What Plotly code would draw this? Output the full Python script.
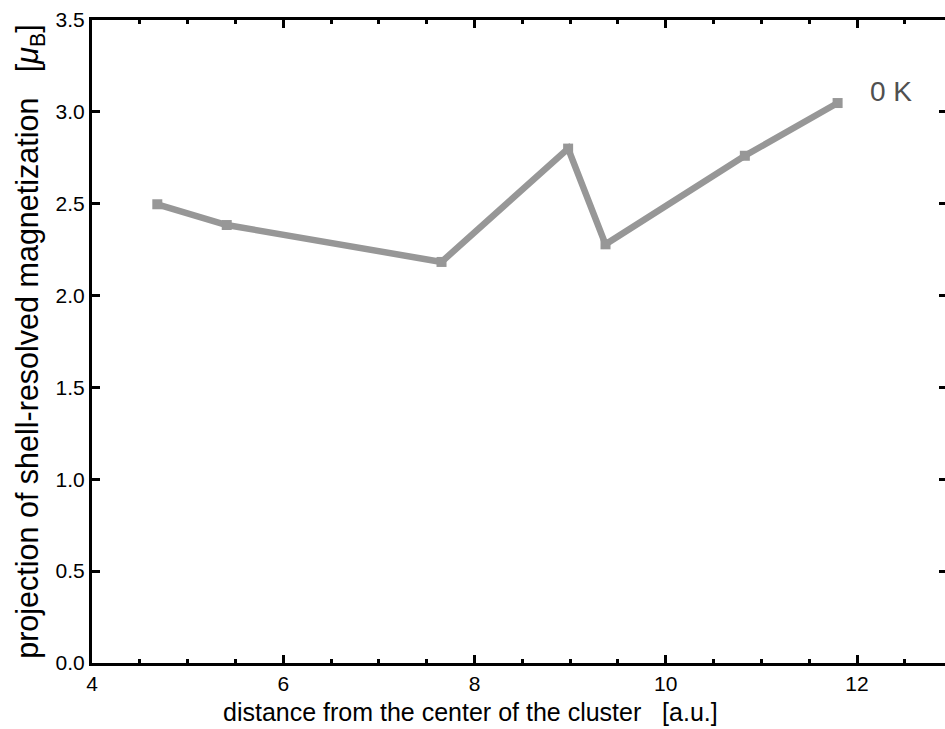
import plotly.graph_objects as go

distance = [4.683, 5.409, 7.655, 8.979, 9.370, 10.827, 11.797]
magnetization = [2.497, 2.384, 2.183, 2.800, 2.279, 2.761, 3.048]
series_label = "0 K"
x_title = "distance from the center of the cluster   [a.u.]"
y_title = "projection of shell-resolved magnetization   [<i>μ</i><sub>B</sub>]"
x_ticks = [4, 6, 8, 10, 12]
y_ticks = [0.0, 0.5, 1.0, 1.5, 2.0, 2.5, 3.0, 3.5]

FONT = "Liberation Sans, Arial, sans-serif"
GRAY = "#979797"

fig = go.Figure()
fig.add_trace(go.Scatter(
    x=distance, y=magnetization, mode="lines+markers",
    line=dict(color=GRAY, width=6.5),
    marker=dict(symbol="square", size=10, color=GRAY),
    showlegend=False, hoverinfo="x+y",
))
# invisible trace for right-side ticks
fig.add_trace(go.Scatter(x=[distance[0]], y=[magnetization[0]], yaxis="y2",
                         mode="markers", marker=dict(opacity=0), showlegend=False,
                         hoverinfo="skip"))

fig.add_annotation(x=12.36, y=3.11, text=series_label, showarrow=False,
                   font=dict(family=FONT, size=28, color="#505050"))
# x-axis title (placed off-centre as in the reference)
fig.add_annotation(x=0.4443, y=-0.076, xref="paper", yref="paper",
                   xanchor="center", yanchor="middle", text=x_title,
                   showarrow=False, font=dict(family=FONT, size=25, color="black"))

fig.update_layout(
    width=945, height=729, autosize=False,
    margin=dict(l=92, r=0, t=20, b=66),
    paper_bgcolor="white", plot_bgcolor="white",
    font=dict(family=FONT, color="black"),
    xaxis=dict(
        range=[4, 12.92], tickvals=x_ticks, ticktext=[str(v) for v in x_ticks],
        ticks="inside", ticklen=8, tickwidth=3, tickcolor="black",
        minor=dict(dtick=0.5, tick0=4, ticks="inside", ticklen=4, tickwidth=3, tickcolor="black"),
        showline=True, linewidth=3, linecolor="black", mirror="ticks",
        showgrid=False, zeroline=False, automargin=False,
        tickfont=dict(size=21, family=FONT),
    ),
    yaxis=dict(
        range=[0, 3.5], tickvals=y_ticks, ticktext=[f"{v:.1f}" for v in y_ticks],
        ticks="inside", ticklen=8, tickwidth=3, tickcolor="black",
        showline=True, linewidth=3, linecolor="black", mirror=False,
        showgrid=False, zeroline=False, automargin=False,
        tickfont=dict(size=21, family=FONT),
        title=dict(text=y_title, font=dict(size=30.5, family=FONT), standoff=8),
    ),
    yaxis2=dict(
        overlaying="y", side="right", range=[0, 3.5], tickvals=y_ticks,
        ticks="inside", ticklen=6, tickwidth=3, tickcolor="black",
        showticklabels=False, showline=False, showgrid=False, zeroline=False,
        automargin=False,
    ),
)

post = ("document.body.style.margin='0';document.body.style.padding='0';"
        "document.body.style.overflow='hidden';"
        "Plotly.relayout('{plot_id}', {width: 945, height: 729});")

fig.write_html("out.html", default_width="945px", default_height="729px",
               post_script=post, config={"displayModeBar": False})
